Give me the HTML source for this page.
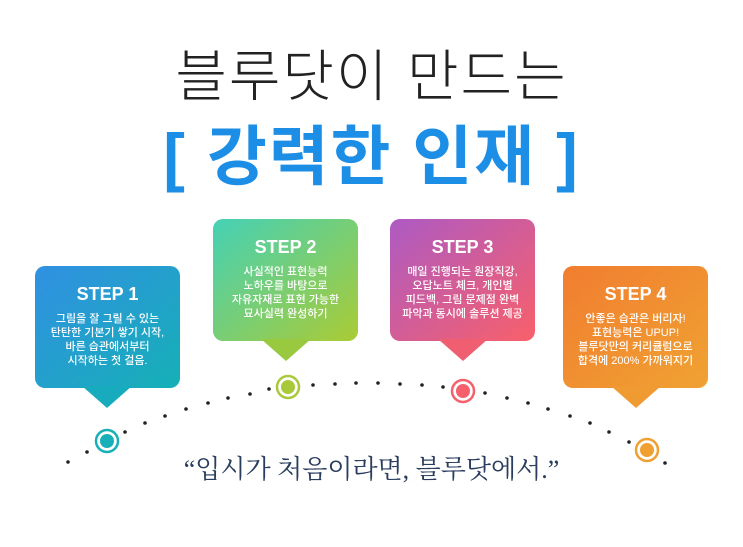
<!DOCTYPE html>
<html><head><meta charset="utf-8"><style>
body{margin:0;width:743px;height:547px;background:#fff;overflow:hidden;position:relative;font-family:"Liberation Sans","Noto Sans CJK KR",sans-serif}
.t1{position:absolute;left:0;width:743px;top:32px;text-align:center;font-size:56px;color:#222;font-weight:300;letter-spacing:2px}
.t2{position:absolute;left:0;width:743px;top:104px;text-align:center;font-size:65px;color:#1c8ee6;font-weight:bold;letter-spacing:2px}
.box{position:absolute;width:145px;height:122px;border-radius:10px;color:#fff;text-align:center}
.box h3{margin:18px 0 7px;font-size:18px;font-weight:bold}
.box p{margin:0;font-size:11px;line-height:14px;font-weight:500}
.q{position:absolute;left:0;width:743px;top:449px;text-align:center;font-family:"Liberation Serif","Noto Serif CJK SC",serif;font-size:26px;color:#2a3d5e}
</style></head><body>
<div class="t1">블루닷이 만드는</div>
<div class="t2">[ 강력한 인재 ]</div>
<svg width="743" height="547" style="position:absolute;left:0;top:0">
<defs>
<linearGradient id="g1" x1="0" y1="0" x2="1" y2="1"><stop offset="0" stop-color="#3190e2"/><stop offset="1" stop-color="#15b0b6"/></linearGradient>
<linearGradient id="g2" x1="0" y1="0" x2="1" y2="1"><stop offset="0" stop-color="#45d1b6"/><stop offset="1" stop-color="#aacb35"/></linearGradient>
<linearGradient id="g3" x1="0" y1="0" x2="1" y2="1"><stop offset="0" stop-color="#ad5ac4"/><stop offset="1" stop-color="#f8606a"/></linearGradient>
<linearGradient id="g4" x1="0" y1="0" x2="1" y2="1"><stop offset="0" stop-color="#f17d30"/><stop offset="1" stop-color="#f0a232"/></linearGradient>
</defs>
<rect x="35" y="266" width="145" height="122" rx="10" fill="url(#g1)"/><polygon points="82,386 132,386 107,408" fill="#18abbd"/>
<rect x="213" y="219" width="145" height="122" rx="10" fill="url(#g2)"/><polygon points="261,339 311,339 286,361" fill="#98c93e"/>
<rect x="390" y="219" width="145" height="122" rx="10" fill="url(#g3)"/><polygon points="438,339 488,339 463,361" fill="#f05e72"/>
<rect x="563" y="266" width="145" height="122" rx="10" fill="url(#g4)"/><polygon points="611,386 661,386 636,408" fill="#f09a32"/>
<g fill="#222">
<circle cx="68" cy="462" r="1.8"/><circle cx="87" cy="452" r="1.8"/><circle cx="125" cy="432" r="1.8"/><circle cx="145" cy="423" r="1.8"/><circle cx="165" cy="416" r="1.8"/><circle cx="186" cy="409" r="1.8"/><circle cx="208" cy="403" r="1.8"/><circle cx="228" cy="398" r="1.8"/><circle cx="250" cy="394" r="1.8"/><circle cx="269" cy="389" r="1.8"/><circle cx="313" cy="385" r="1.8"/><circle cx="335" cy="384" r="1.8"/><circle cx="356" cy="383" r="1.8"/><circle cx="378" cy="383" r="1.8"/><circle cx="400" cy="384" r="1.8"/><circle cx="422" cy="385" r="1.8"/><circle cx="443" cy="387" r="1.8"/><circle cx="485" cy="393" r="1.8"/><circle cx="507" cy="398" r="1.8"/><circle cx="528" cy="403" r="1.8"/><circle cx="548" cy="409" r="1.8"/><circle cx="570" cy="416" r="1.8"/><circle cx="590" cy="423" r="1.8"/><circle cx="609" cy="432" r="1.8"/><circle cx="629" cy="442" r="1.8"/><circle cx="665" cy="463" r="1.8"/>
</g>
<circle cx="107" cy="441" r="11" fill="#fff" stroke="#17b0b8" stroke-width="2.5"/><circle cx="107" cy="441" r="7" fill="#17b0b8"/>
<circle cx="288" cy="387" r="11" fill="#fff" stroke="#a8c93a" stroke-width="2.5"/><circle cx="288" cy="387" r="7" fill="#a8c93a"/>
<circle cx="463" cy="391" r="11" fill="#fff" stroke="#f5606c" stroke-width="2.5"/><circle cx="463" cy="391" r="7" fill="#f5606c"/>
<circle cx="647" cy="450" r="11" fill="#fff" stroke="#f0a030" stroke-width="2.5"/><circle cx="647" cy="450" r="7" fill="#f0a030"/>
</svg>
<div class="box" style="left:35px;top:266px"><h3>STEP 1</h3><p>그림을 잘 그릴 수 있는<br>탄탄한 기본기 쌓기 시작,<br>바른 습관에서부터<br>시작하는 첫 걸음.</p></div>
<div class="box" style="left:213px;top:219px"><h3>STEP 2</h3><p>사실적인 표현능력<br>노하우를 바탕으로<br>자유자재로 표현 가능한<br>묘사실력 완성하기</p></div>
<div class="box" style="left:390px;top:219px"><h3>STEP 3</h3><p>매일 진행되는 원장직강,<br>오답노트 체크, 개인별<br>피드백, 그림 문제점 완벽<br>파악과 동시에 솔루션 제공</p></div>
<div class="box" style="left:563px;top:266px"><h3>STEP 4</h3><p>안좋은 습관은 버리자!<br>표현능력은 UPUP!<br>블루닷만의 커리큘럼으로<br>합격에 200% 가까워지기</p></div>
<div class="q">“입시가 처음이라면, 블루닷에서.”</div>
</body></html>
